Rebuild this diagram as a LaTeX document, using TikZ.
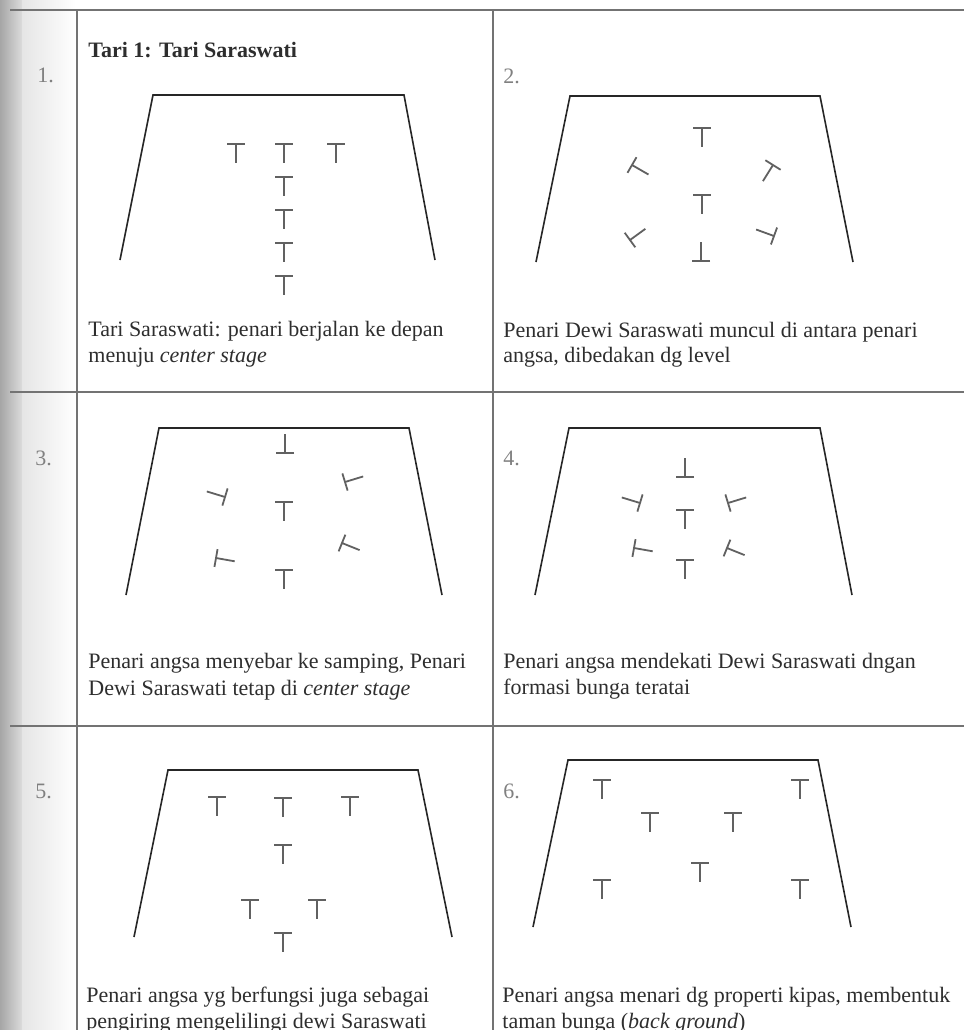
\documentclass[tikz,border=0pt]{standalone}
\usepackage{fontspec}
\setmainfont{Liberation Serif}
\begin{document}
\begin{tikzpicture}[x=0.5pt,y=-0.5pt,
  tbl/.style={draw=black!55, line width=0.7pt},
  stage/.style={draw=black!85, line width=0.8pt, line join=miter},
  dline/.style={draw=black!62, line width=0.9pt},
  captxt/.style={anchor=base west, inner sep=0pt, font=\fontsize{11}{13.5}\selectfont, text=black!82},
  numtxt/.style={anchor=base west, inner sep=0pt, font=\fontsize{11}{13.5}\selectfont, text=black!50},
  dancer/.pic={\draw[dline] (-9,0) -- (9,0) (0,0) -- (0,19);}
]
\useasboundingbox (0,0) rectangle (964,1030);
\fill[white] (0,0) rectangle (964,1030);
% scanned left margin
\fill[left color=black!35, right color=black!14] (0,0) rectangle (22,1030);
\fill[left color=black!10, right color=white] (22,0) rectangle (76,1030);
% table
\draw[tbl] (10,10) -- (964,10);
\draw[tbl] (10,392) -- (964,392);
\draw[tbl] (10,726) -- (964,726);
\draw[tbl] (77,10) -- (77,1030);
\draw[tbl] (493,10) -- (493,1030);

% numbers
\node[numtxt] (n1) at (37,82) {1.};
\node[numtxt] (n2) at (503,83) {2.};
\node[numtxt] (n3) at (35,465) {3.};
\node[numtxt] (n4) at (503,465) {4.};
\node[numtxt] (n5) at (35,798) {5.};
\node[numtxt] (n6) at (503,798) {6.};

% title
\node[captxt, font=\fontsize{11}{13.5}\selectfont\bfseries] (title) at (88,57) {Tari 1: Tari Saraswati};

% captions
\node[captxt] (c1a) at (88,336) {Tari Saraswati: penari berjalan ke depan};
\node[captxt] (c1b) at (88,362) {menuju \textit{center stage}};
\node[captxt] (c2a) at (503,337) {Penari Dewi Saraswati muncul di antara penari};
\node[captxt] (c2b) at (503,362) {angsa, dibedakan dg level};
\node[captxt] (c3a) at (88,668) {Penari angsa menyebar ke samping, Penari};
\node[captxt] (c3b) at (88,695) {Dewi Saraswati tetap di \textit{center stage}};
\node[captxt] (c4a) at (503,668) {Penari angsa mendekati Dewi Saraswati dngan};
\node[captxt] (c4b) at (503,694) {formasi bunga teratai};
\node[captxt] (c5a) at (86,1002) {Penari angsa yg berfungsi juga sebagai};
\node[captxt] (c5b) at (86,1028) {pengiring mengelilingi dewi Saraswati};
\node[captxt] (c6a) at (502,1002) {Penari angsa menari dg properti kipas, membentuk};
\node[captxt] (c6b) at (502,1028) {taman bunga (\textit{back ground})};

% stages
\draw[stage] (120,260) -- (153,95) -- (404,95) -- (435,260);
\draw[stage] (536,262) -- (570,96) -- (820,96) -- (853,262);
\draw[stage] (126,595) -- (159,428) -- (409,428) -- (442,595);
\draw[stage] (535,595) -- (569,428) -- (820,428) -- (852,595);
\draw[stage] (134,937) -- (168,770) -- (418,770) -- (452,937);
\draw[stage] (533,927) -- (568,760) -- (818,760) -- (851,927);

% panel 1
\pic (p1a) at (236,144) {dancer};
\pic (p1b) at (284,144) {dancer};
\pic (p1c) at (336,144) {dancer};
\pic (p1d) at (284,177) {dancer};
\pic (p1e) at (284,210) {dancer};
\pic (p1f) at (284,243) {dancer};
\pic (p1g) at (284,276) {dancer};

% panel 2
\pic (p2a) at (702,128) {dancer};
\pic (p2b) at (702,195) {dancer};
\pic[rotate=180] (p2c) at (701,261) {dancer};
\pic[rotate=60] (p2d) at (632,165) {dancer};
\pic[rotate=-32] (p2e) at (773,165) {dancer};
\pic[rotate=126] (p2f) at (630,240) {dancer};
\pic[rotate=-110] (p2g) at (774,236) {dancer};

% panel 3
\pic[rotate=180] (p3a) at (285,453) {dancer};
\pic[rotate=-107] (p3b) at (225,497) {dancer};
\pic (p3c) at (284,502) {dancer};
\pic[rotate=107] (p3d) at (345,482) {dancer};
\pic[rotate=80] (p3e) at (216,558) {dancer};
\pic (p3f) at (284,570) {dancer};
\pic[rotate=68] (p3g) at (342,543) {dancer};

% panel 4
\pic[rotate=180] (p4a) at (685,477) {dancer};
\pic[rotate=-107] (p4b) at (640,503) {dancer};
\pic (p4c) at (685,510) {dancer};
\pic[rotate=107] (p4d) at (728,503) {dancer};
\pic[rotate=80] (p4e) at (634,548) {dancer};
\pic (p4f) at (685,560) {dancer};
\pic[rotate=68] (p4g) at (727,548) {dancer};

% panel 5
\pic (p5a) at (217,797) {dancer};
\pic (p5b) at (283,798) {dancer};
\pic (p5c) at (350,797) {dancer};
\pic (p5d) at (283,845) {dancer};
\pic (p5e) at (250,900) {dancer};
\pic (p5f) at (317,900) {dancer};
\pic (p5g) at (283,933) {dancer};

% panel 6
\pic (p6a) at (602,780) {dancer};
\pic (p6b) at (800,780) {dancer};
\pic (p6c) at (650,813) {dancer};
\pic (p6d) at (733,813) {dancer};
\pic (p6e) at (700,863) {dancer};
\pic (p6f) at (602,880) {dancer};
\pic (p6g) at (800,880) {dancer};
\end{tikzpicture}
\end{document}
